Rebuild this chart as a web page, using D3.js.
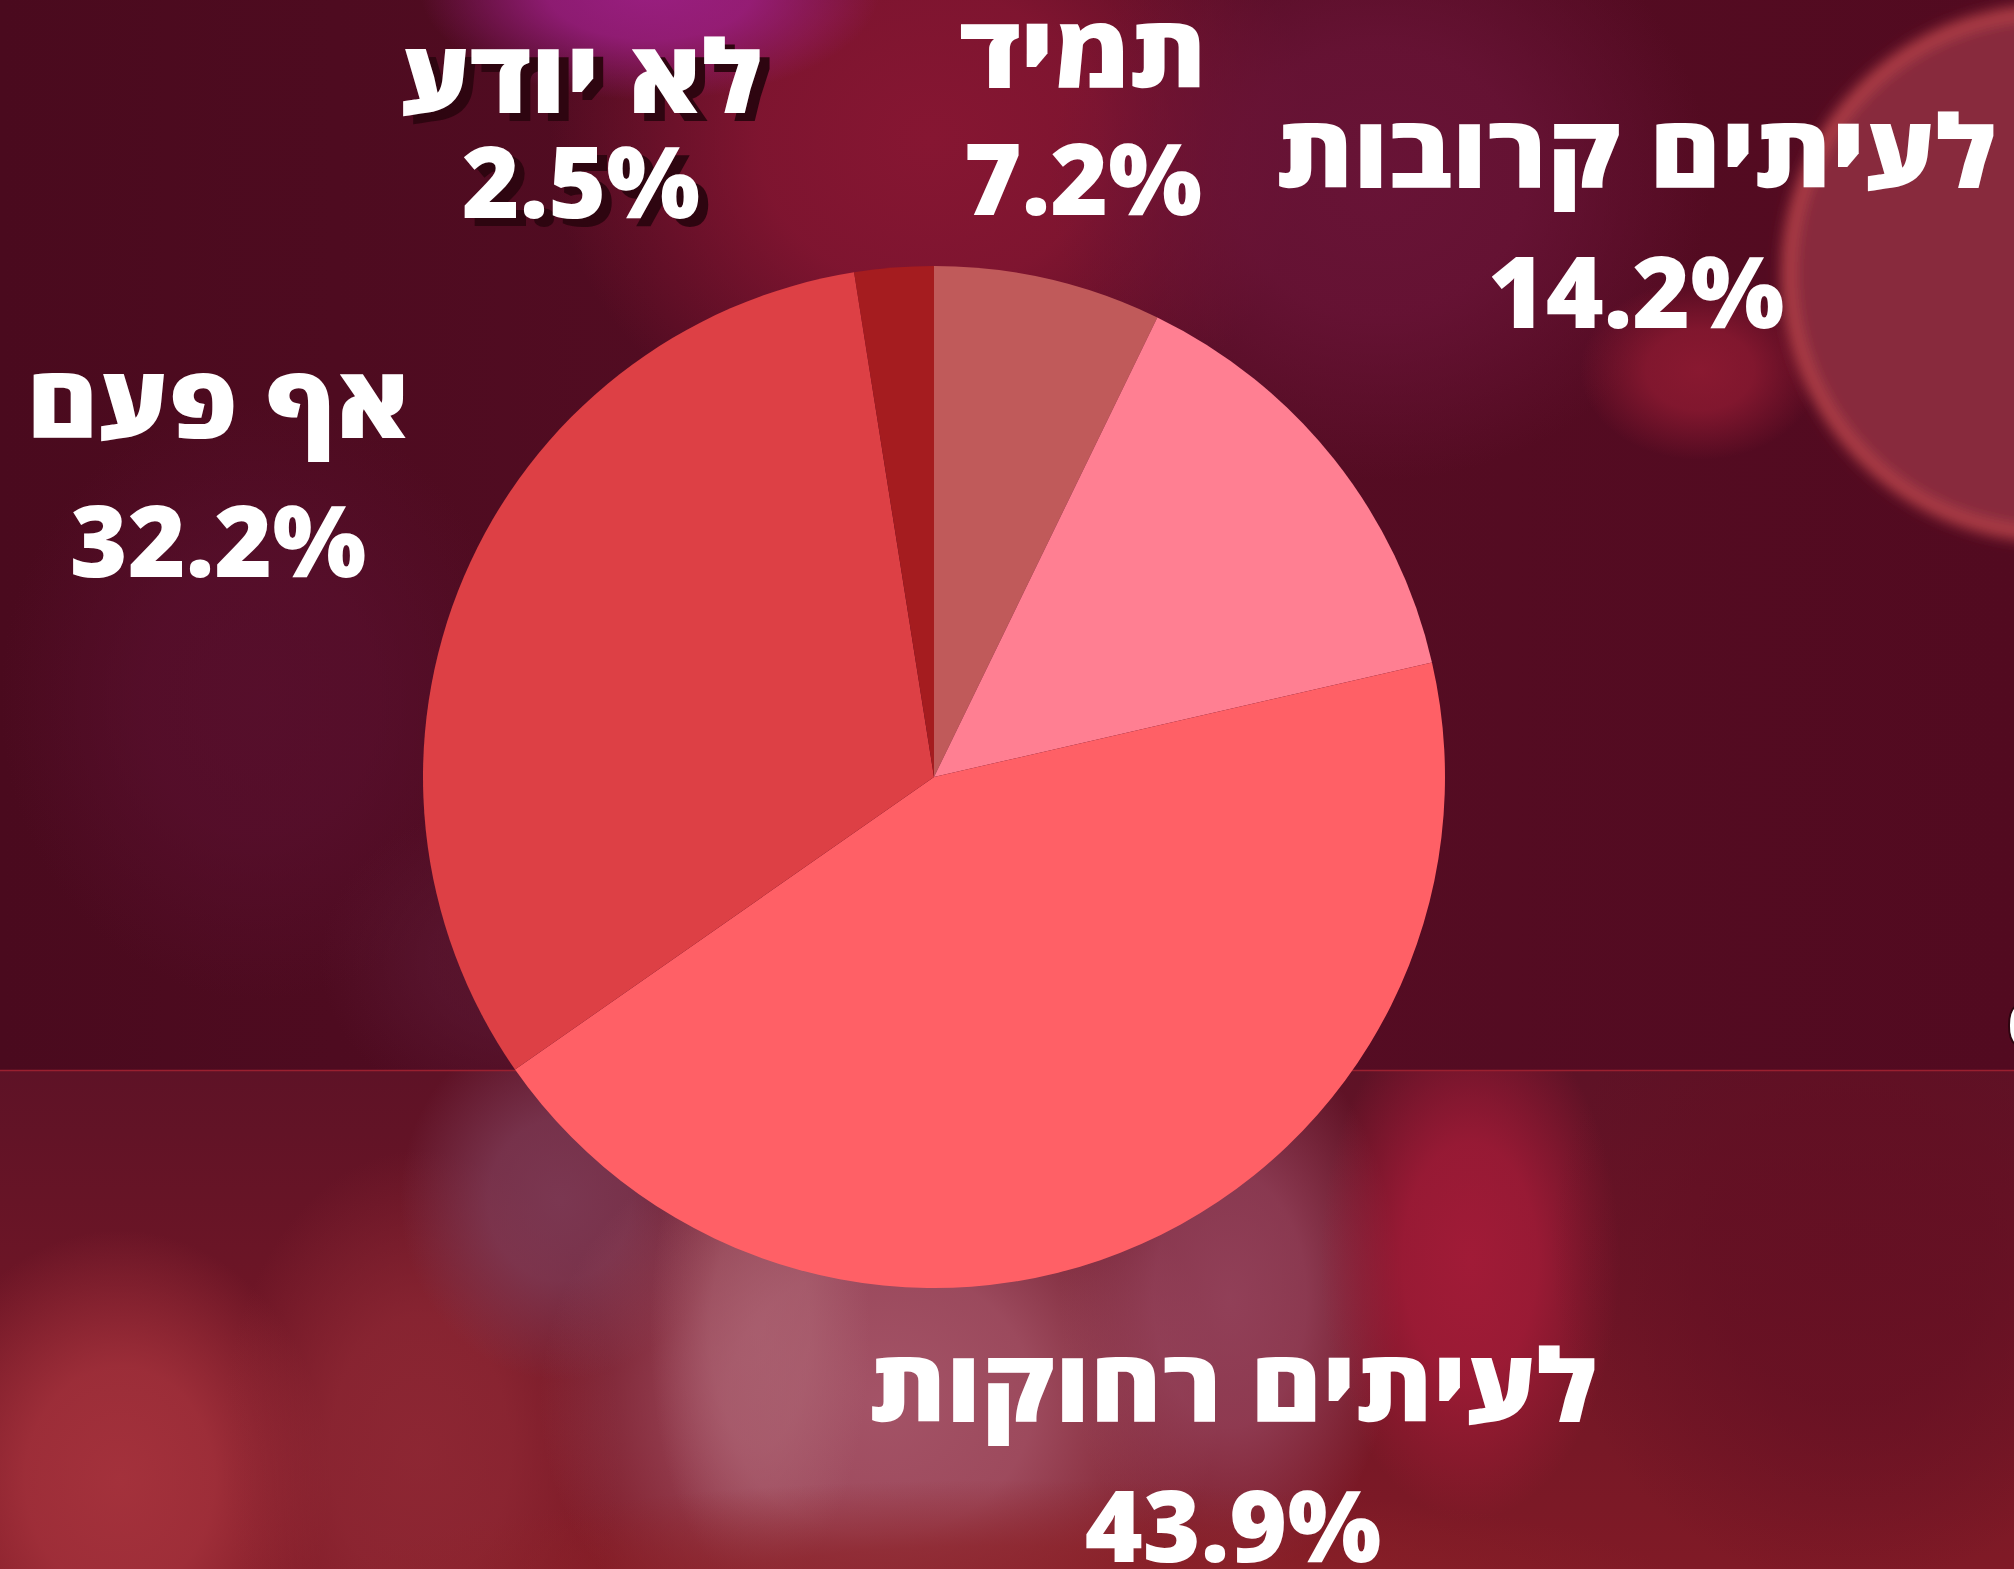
<!DOCTYPE html>
<html lang="he">
<head>
<meta charset="utf-8">
<script src="https://cdn.jsdelivr.net/npm/d3@7"></script>
<style>
html, body { margin: 0; padding: 0; overflow: hidden; background: #520d22; }
svg { display: block; }
.lbl { font-family: "Open Sans", "Liberation Sans", sans-serif; fill: #fff; font-weight: 800; }
.name { font-size: 101px; }
.pct { font-size: 99px; }
</style>
</head>
<body>
<svg id="chart"></svg>
<script>
// slices, clockwise from 12 o'clock
var labels = ["תמיד", "לעיתים קרובות", "לעיתים רחוקות", "אף פעם", "לא יודע"];
var values = [7.2, 14.2, 43.9, 32.2, 2.5];
var colors = ["#c05a5a", "#ff7f92", "#ff6066", "#dd4045", "#a51c1f"];

var width = 2014, height = 1569;
var cx = 934, cy = 777, radius = 511;

// label layout: x centre, baseline of name, baseline of percent
var labelPos = [[1083, 88, 215], [1636, 188, 328], [1233, 1422, 1562], [218, 438, 577], [581, 113, 218]];
var withShadow = [false, false, false, false, true];
var nameStretch = 1.08;

var svg = d3.select("#chart")
  .attr("width", width)
  .attr("height", height);

var defs = svg.append("defs");
defs.append("filter").attr("id", "soft")
  .attr("x", "-20%").attr("y", "-20%").attr("width", "140%").attr("height", "140%")
  .append("feGaussianBlur").attr("stdDeviation", 7);

var topGrad = defs.append("linearGradient").attr("id", "topGrad")
  .attr("x1", 0).attr("y1", 0).attr("x2", 1).attr("y2", 0);
topGrad.append("stop").attr("offset", 0).attr("stop-color", "#4a0a1e");
topGrad.append("stop").attr("offset", 0.5).attr("stop-color", "#560d24");
topGrad.append("stop").attr("offset", 1).attr("stop-color", "#520a20");

var lowGrad = defs.append("linearGradient").attr("id", "lowGrad")
  .attr("x1", 0).attr("y1", 0).attr("x2", 0).attr("y2", 1);
lowGrad.append("stop").attr("offset", 0).attr("stop-color", "#5e1226");
lowGrad.append("stop").attr("offset", 1).attr("stop-color", "#801a26");

// soft bokeh blob: radial fade to transparent
var nBlob = 0;
function blob(g, x, y, rx, ry, col, op) {
  var id = "blob" + (nBlob++);
  var rg = defs.append("radialGradient").attr("id", id);
  rg.append("stop").attr("offset", 0).attr("stop-color", col).attr("stop-opacity", op);
  rg.append("stop").attr("offset", 0.45).attr("stop-color", col).attr("stop-opacity", op * 0.85);
  rg.append("stop").attr("offset", 1).attr("stop-color", col).attr("stop-opacity", 0);
  g.append("ellipse").attr("cx", x).attr("cy", y).attr("rx", rx).attr("ry", ry)
    .attr("fill", "url(#" + id + ")");
}

// background photo, roughly
var bg = svg.append("g");
bg.append("rect").attr("width", width).attr("height", 1070).attr("fill", "url(#topGrad)");
blob(bg, 930, 140, 380, 330, "#861632", 1);
blob(bg, 650, -10, 230, 110, "#a0208a", 0.9);
blob(bg, 1380, 180, 330, 300, "#6a1438", 0.9);
blob(bg, 1700, 370, 120, 90, "#961c34", 0.8);
blob(bg, 260, 700, 260, 300, "#5a1030", 0.7);
blob(bg, 520, 960, 200, 160, "#5e1a36", 0.6);

// the big bokeh ring top right
bg.append("circle").attr("cx", 2050).attr("cy", 273).attr("r", 262)
  .attr("fill", "#882c3c").attr("stroke", "#b8424a").attr("stroke-width", 12)
  .attr("filter", "url(#soft)");

var low = svg.append("g");
low.append("clipPath").attr("id", "lower")
  .append("rect").attr("y", 1071).attr("width", width).attr("height", height - 1071);
low = low.append("g").attr("clip-path", "url(#lower)");
low.append("rect").attr("y", 1071).attr("width", width).attr("height", height - 1071).attr("fill", "url(#lowGrad)");
blob(low, 120, 1480, 210, 250, "#a8343e", 0.9);
blob(low, 420, 1450, 200, 300, "#922a36", 0.8);
blob(low, 560, 1200, 160, 180, "#80405c", 0.8);
blob(low, 880, 1400, 340, 300, "#a6566a", 0.95);
blob(low, 760, 1330, 110, 260, "#b06a78", 0.6);
blob(low, 1230, 1300, 170, 280, "#9a4a64", 0.8);
blob(low, 1470, 1260, 150, 260, "#aa1c3a", 0.85);
blob(low, 1850, 1250, 300, 340, "#620e22", 0.7);
blob(low, 1000, 1600, 700, 120, "#8c2228", 0.8);

// seam in the photo
svg.append("line").attr("x1", 0).attr("x2", width).attr("y1", 1070.5).attr("y2", 1070.5)
  .attr("stroke", "#9a2030").attr("stroke-width", 1.5);

// pie
var pie = d3.pie().sort(null).value(function(d) { return d; });
var arc = d3.arc().innerRadius(0).outerRadius(radius);

svg.append("g")
  .attr("transform", "translate(" + cx + "," + cy + ")")
  .selectAll("path")
  .data(pie(values))
  .enter()
  .append("path")
  .attr("d", arc)
  .attr("fill", function(d, i) { return colors[i]; });

// labels
var lab = svg.append("g");
function addText(str, cls, x, y, fill) {
  var t = lab.append("text").attr("class", "lbl " + cls)
    .attr("text-anchor", "middle")
    .text(str);
  if (cls == "name") {
    t.attr("transform", "translate(" + x + "," + y + ") scale(" + nameStretch + ",1)");
  } else {
    t.attr("x", x).attr("y", y);
  }
  if (fill) t.style("fill", fill);
  return t;
}
labels.forEach(function(name, i) {
  var p = labelPos[i];
  var pct = values[i].toFixed(1) + "%";
  if (withShadow[i]) {
    addText(name, "name", p[0] + 10, p[1] + 8, "#2e0510");
    addText(pct, "pct", p[0] + 10, p[2] + 8, "#2e0510");
  }
  addText(name, "name", p[0], p[1]);
  addText(pct, "pct", p[0], p[2]);
});

// sliver of a label cut off at the right edge
lab.append("text").attr("class", "lbl pct")
  .attr("x", 2008).attr("y", 1046)
  .style("font-size", "56px")
  .attr("stroke", "#2e0510").attr("stroke-width", 4).attr("paint-order", "stroke")
  .text("0");
</script>
</body>
</html>
